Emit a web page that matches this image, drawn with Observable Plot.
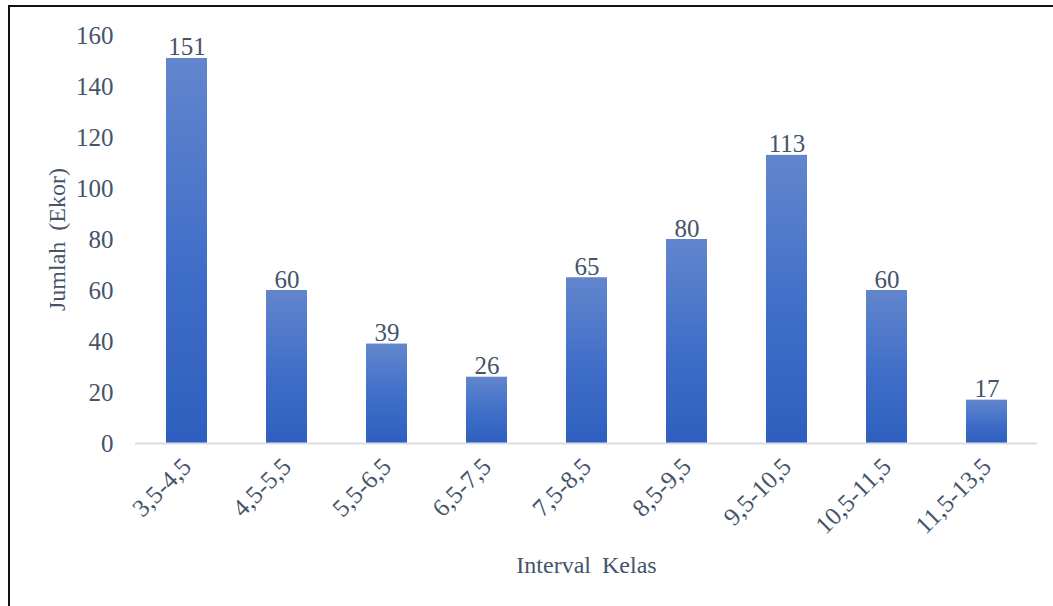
<!DOCTYPE html>
<html>
<head>
<meta charset="utf-8">
<script src="https://cdn.jsdelivr.net/npm/d3@7"></script>
<script src="https://cdn.jsdelivr.net/npm/@observablehq/plot@0.6"></script>
<style>
  html, body { margin: 0; padding: 0; background: #fff; }
  #wrap { position: relative; width: 1053px; height: 606px; overflow: hidden; }
  #border { position: absolute; left: 8px; top: 5px; right: -10px; bottom: -10px;
            border-top: 2px solid #111; border-left: 2px solid #111; pointer-events: none; }
</style>
</head>
<body>
<div id="wrap"><div id="border"></div></div>
<script>
const categories = ["3,5-4,5", "4,5-5,5", "5,5-6,5", "6,5-7,5", "7,5-8,5", "8,5-9,5", "9,5-10,5", "10,5-11,5", "11,5-13,5"];
const values = [151, 60, 39, 26, 65, 80, 113, 60, 17];
const yTicks = [0, 20, 40, 60, 80, 100, 120, 140, 160];
const xTitle = "Interval Kelas";
const yTitle = "Jumlah (Ekor)";

const data = categories.map((c, i) => ({ kelas: c, jumlah: values[i] }));
const textColor = "#44546a";
const font = "'Liberation Serif', 'Times New Roman', serif";
const fs = 25;
const ts = 24;

const chart = Plot.plot({
  width: 1053,
  height: 606,
  marginLeft: 135,
  marginRight: 16,
  marginTop: 35,
  marginBottom: 163,
  style: { fontFamily: font, fontSize: fs + "px", color: textColor, background: "transparent" },
  x: { domain: categories, paddingInner: 0.59, paddingOuter: 0.295, label: null },
  y: { domain: [0, 160], ticks: yTicks, label: null },
  marks: [
    Plot.axisY({ ticks: yTicks, tickSize: 0, tickPadding: 22, label: null, fontSize: fs, fill: textColor }),
    Plot.axisX({ tickSize: 0, tickPadding: 19, tickRotate: -45, label: null, fontSize: fs, fill: textColor }),
    Plot.barY(data, { x: "kelas", y: "jumlah", fill: "url(#barGrad)" }),
    Plot.ruleY([0], { stroke: "#d9dee6", strokeWidth: 2 }),
    Plot.text(data, { x: "kelas", y: "jumlah", text: d => String(d.jumlah), lineAnchor: "bottom", dy: -3, fontSize: fs, fill: textColor }),
    Plot.text([xTitle], { frameAnchor: "bottom", text: d => d, dy: 122, fontSize: ts, fill: textColor, lineAnchor: "middle", className: "xtitle" }),
    Plot.text([yTitle], { frameAnchor: "left", text: d => d, dx: -78, rotate: -90, textAnchor: "middle", lineAnchor: "middle", fontSize: ts, fill: textColor, className: "ytitle" })
  ]
});

const svg = d3.select(chart);
svg.selectAll(".xtitle text, .ytitle text").style("word-spacing", "5px");
const defs = svg.insert("defs", ":first-child");
const grad = defs.append("linearGradient").attr("id", "barGrad").attr("x1", 0).attr("y1", 0).attr("x2", 0).attr("y2", 1);
grad.append("stop").attr("offset", "0%").attr("stop-color", "#6286cd");
grad.append("stop").attr("offset", "55%").attr("stop-color", "#3f6ec8");
grad.append("stop").attr("offset", "100%").attr("stop-color", "#2f5fbe");

document.getElementById("wrap").prepend(chart);
</script>
</body>
</html>
